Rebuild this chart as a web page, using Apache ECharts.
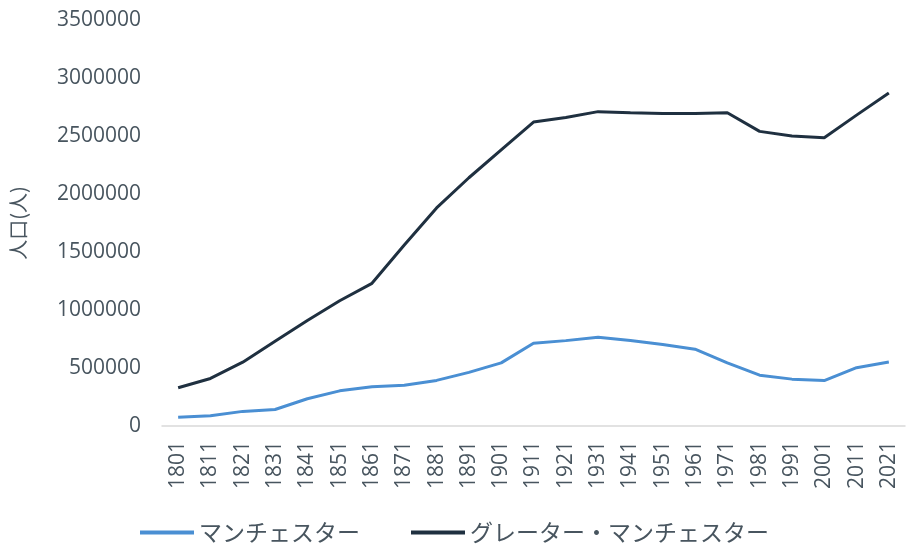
<!DOCTYPE html>
<html>
<head>
<meta charset="utf-8">
<script src="https://cdn.jsdelivr.net/npm/echarts@6/dist/echarts.min.js"></script>
<style>
  html, body { margin: 0; padding: 0; background: #ffffff; }
  #chart { width: 907px; height: 546px; }
</style>
</head>
<body>
<div id="chart"></div>
<script>
// Census years
const years = ['1801','1811','1821','1831','1841','1851','1861','1871','1881','1891','1901','1911',
               '1921','1931','1941','1951','1961','1971','1981','1991','2001','2011','2021'];

// Population of Manchester
const manchester = [75000, 89000, 126000, 142000, 235000, 303000, 339000, 351000, 393000, 462000,
                    544000, 714000, 736000, 766000, 737000, 703000, 662000, 544000, 438000, 404000,
                    392000, 503000, 552000];

// Population of Greater Manchester
const greaterManchester = [330000, 410000, 550000, 730000, 910000, 1080000, 1230000, 1560000, 1880000,
                           2140000, 2380000, 2620000, 2660000, 2710000, 2700000, 2695000, 2695000,
                           2700000, 2540000, 2500000, 2485000, 2680000, 2870000];

const seriesNames = ['マンチェスター', 'グレーター・マンチェスター'];
const yAxisName = '人口(人)';

const textColor = '#48555f';
const cjkFont = '"Noto Sans CJK JP", "Open Sans", sans-serif';
const numFont = '"Open Sans", sans-serif';

const chart = echarts.init(document.getElementById('chart'));
chart.setOption({
  animation: false,
  backgroundColor: '#ffffff',
  textStyle: { fontFamily: cjkFont },
  grid: { left: 160, right: 2, top: 20, bottom: 120 },
  legend: {
    left: 135,
    top: 516,
    icon: 'rect',
    itemWidth: 54,
    itemHeight: 4,
    itemGap: 51,
    textStyle: { color: textColor, fontSize: 23, fontFamily: cjkFont },
    data: seriesNames
  },
  xAxis: {
    type: 'category',
    data: years,
    boundaryGap: true,
    axisLine: { lineStyle: { color: '#d9d9d9', width: 1.5 } },
    axisTick: { show: false },
    axisLabel: { rotate: 90, color: textColor, fontSize: 21, margin: 15, fontFamily: numFont }
  },
  yAxis: {
    type: 'value',
    min: 0,
    max: 3500000,
    interval: 500000,
    name: yAxisName,
    nameLocation: 'middle',
    nameGap: 134,
    nameTextStyle: { color: textColor, fontSize: 20, fontFamily: cjkFont },
    axisLine: { show: false },
    axisTick: { show: false },
    splitLine: { show: false },
    axisLabel: {
      color: textColor, fontSize: 21, margin: 21, fontFamily: numFont,
      formatter: function (v) { return String(v); }
    }
  },
  series: [
    {
      name: seriesNames[0],
      type: 'line',
      data: manchester,
      symbol: 'none',
      lineStyle: { color: '#4a8fd3', width: 3 },
      itemStyle: { color: '#4a8fd3' }
    },
    {
      name: seriesNames[1],
      type: 'line',
      data: greaterManchester,
      symbol: 'none',
      lineStyle: { color: '#1f3040', width: 3 },
      itemStyle: { color: '#1f3040' }
    }
  ]
});
</script>
</body>
</html>
